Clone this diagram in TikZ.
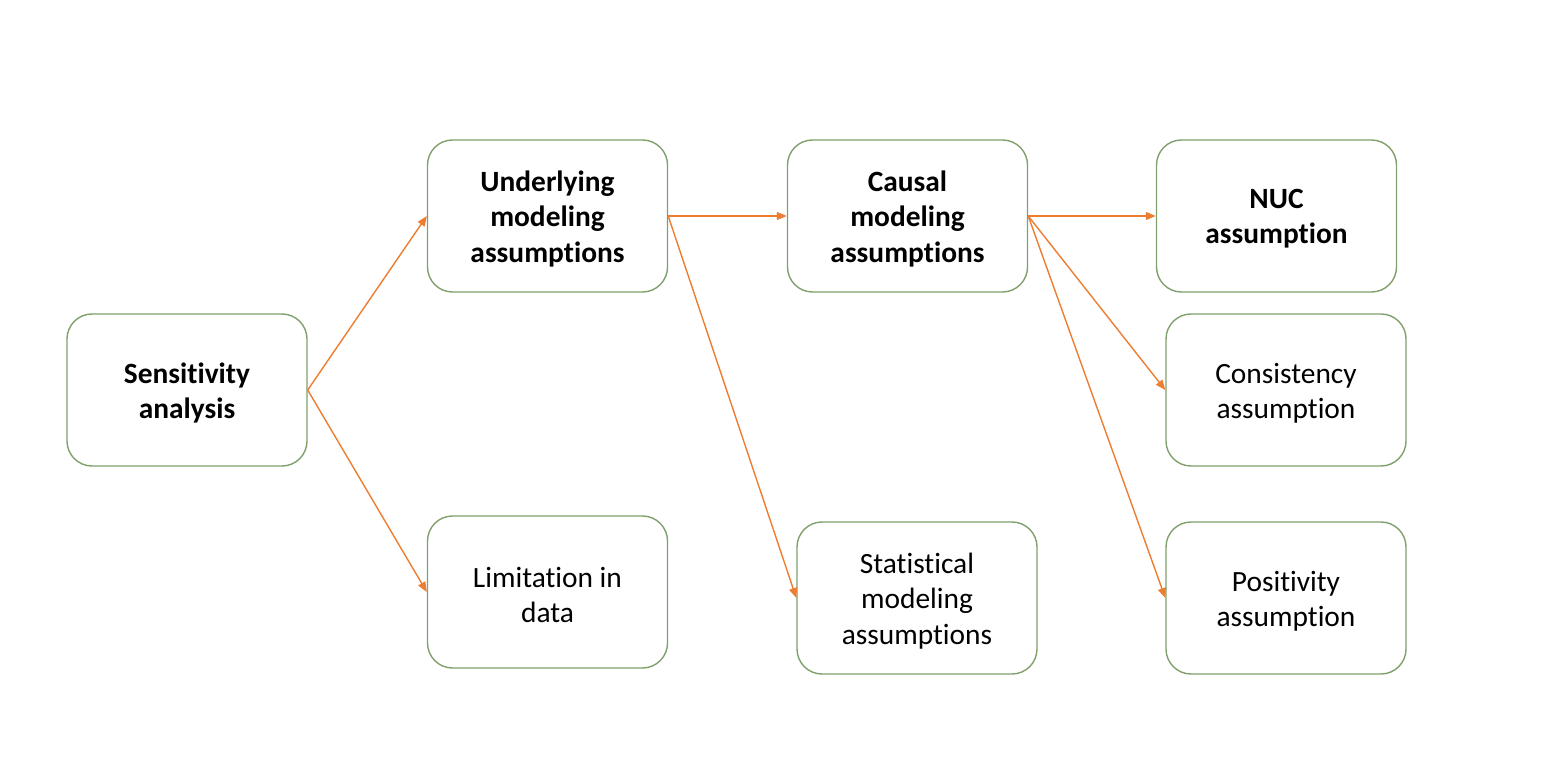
\documentclass[tikz,border=0pt]{standalone}
\usepackage{fontspec}
\setmainfont[Ligatures=NoCommon]{Carlito}
\usetikzlibrary{arrows.meta}
\definecolor{boxline}{RGB}{128,160,108}
\definecolor{arr}{RGB}{237,125,49}
\begin{document}
\begin{tikzpicture}[x=0.5pt,y=-0.5pt,
  box/.style={draw=boxline, line width=0.7pt, rounded corners=12.5pt, minimum width=120pt, minimum height=76pt, inner sep=0pt},
  txt/.style={align=center, inner sep=0pt, yshift=-1.5pt, font=\fontsize{14.7}{17.6}\selectfont},
  btxt/.style={txt, font=\fontsize{14.7}{17.6}\selectfont\bfseries},
  conn/.style={draw=arr, line width=0.7pt, -{Triangle[length=5pt,width=4pt]}}]
\useasboundingbox (0,0) rectangle (1545,774);
\node[box, label={[btxt]center:Sensitivity\\analysis}] (sa) at (187,390) {};
\node[box, label={[btxt]center:Underlying\\modeling\\assumptions}] (uma) at (547.5,216) {};
\node[box, label={[txt]center:Limitation in\\data}] (lim) at (547.5,592) {};
\node[box, label={[btxt]center:Causal\\modeling\\assumptions}] (cma) at (907.5,216) {};
\node[box, label={[txt]center:Statistical\\modeling\\assumptions}] (sma) at (917,598) {};
\node[box, label={[btxt]center:NUC\\assumption}] (nuc) at (1276.5,216) {};
\node[box, label={[txt]center:Consistency\\assumption}] (con) at (1286,390) {};
\node[box, label={[txt]center:Positivity\\assumption}] (pos) at (1286,598) {};
\draw[conn] (sa.east) -- (uma.west);
\draw[conn] (sa.east) -- (lim.west);
\draw[conn] (uma.east) -- (cma.west);
\draw[conn] (uma.east) -- (sma.west);
\draw[conn] (cma.east) -- (nuc.west);
\draw[conn] (cma.east) -- (con.west);
\draw[conn] (cma.east) -- (pos.west);
\end{tikzpicture}
\end{document}
